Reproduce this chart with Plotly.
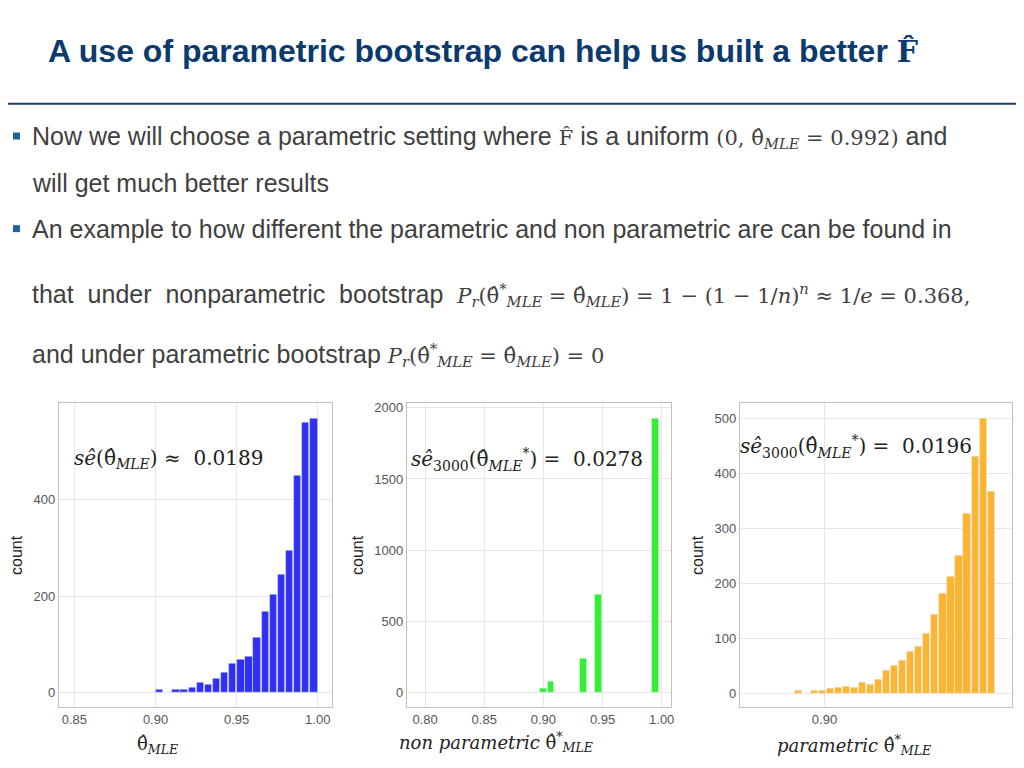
import plotly.graph_objects as go

# panel 1: theta_hat MLE (bin width 0.005)
mle_x = [0.9025, 0.9075, 0.9125, 0.9175, 0.9225, 0.9275, 0.9325, 0.9375, 0.9425, 0.9475,
         0.9525, 0.9575, 0.9625, 0.9675, 0.9725, 0.9775, 0.9825, 0.9875, 0.9925, 0.9975]
mle_y = [7, 0, 7, 7, 12, 22, 18, 30, 42, 60, 68, 75, 115, 168, 204, 246, 295, 449, 559, 567]

# panel 2: non parametric bootstrap
np_x = [0.8997, 0.9062, 0.934, 0.9466, 0.9948]
np_y = [30, 77, 240, 692, 1925]

# panel 3: parametric bootstrap (bin width ~0.00425)
p_x = [0.8860 + 0.00425 * i for i in range(25)]
p_y = [4, 0, 4, 4, 8, 10, 12, 10, 20, 15, 25, 42, 51, 60, 76, 84, 109, 144, 181, 213,
       250, 327, 432, 500, 367]

W, H = 1024, 768
OFF = 8  # page margin of the html body
serif = "DejaVu Serif"
sans = "Liberation Sans"

fig = go.Figure()
fig.add_trace(go.Bar(x=mle_x, y=mle_y, width=0.0045, marker_color="#3030f5", xaxis="x", yaxis="y"))
fig.add_trace(go.Bar(x=np_x, y=np_y, width=0.0056, marker_color="#33ee33", xaxis="x2", yaxis="y2"))
fig.add_trace(go.Bar(x=p_x, y=p_y, width=0.0038, marker_color="#fbb531", xaxis="x3", yaxis="y3"))

def px(x):
    return (x - OFF) / W

def py(y):
    return 1 - (y - OFF) / H

def xd(a, b):
    return [px(a), px(b)]

def yd(top, bot):
    return [py(bot), py(top)]

ax = dict(showgrid=True, gridcolor="#e6e6e6", zeroline=False, showline=True, mirror=True,
          linecolor="#c0c0c0", ticks="", tickfont=dict(family=sans, size=13, color="#555"))
ytitle = dict(text="count", font=dict(family=sans, size=16, color="#222"), standoff=6)

fig.update_layout(
    width=W, height=H, margin=dict(l=0, r=0, t=0, b=0),
    paper_bgcolor="white", plot_bgcolor="white", showlegend=False, bargap=0,
    xaxis=dict(ax, domain=xd(59, 333), range=[0.8404, 1.0088], anchor="y",
               tickvals=[0.85, 0.9, 0.95, 1.0], ticktext=["0.85", "0.90", "0.95", "1.00"]),
    yaxis=dict(ax, domain=yd(402, 707), range=[-30, 599], anchor="x", tickvals=[0, 200, 400],
               title=ytitle),
    xaxis2=dict(ax, domain=xd(408, 673), range=[0.7846, 1.0079], anchor="y2",
                tickvals=[0.8, 0.85, 0.9, 0.95, 1.0], ticktext=["0.80", "0.85", "0.90", "0.95", "1.00"]),
    yaxis2=dict(ax, domain=yd(402, 707), range=[-103, 2030], anchor="x2",
                tickvals=[0, 500, 1000, 1500, 2000], title=ytitle),
    xaxis3=dict(ax, domain=xd(742, 1015), range=[0.8553, 0.9991], anchor="y3",
                tickvals=[0.9], ticktext=["0.90"]),
    yaxis3=dict(ax, domain=yd(402, 707), range=[-26, 528], anchor="x3",
                tickvals=[0, 100, 200, 300, 400, 500], title=ytitle),
)

def m(t, size=21):
    return '<span style="font-family:DejaVu Serif;font-size:%dpx">%s</span>' % (size, t)

th = "θ̂<sub><i>MLE</i></sub>"
ths = "θ̂<sup>*</sup><sub><i>MLE</i></sub>"
body = dict(family=sans, size=25, color="#404040")
math = dict(family=serif, size=20, color="#222")
lab = dict(family=serif, size=18, color="#222")
notes = [
    (46, 48, "<b>A use of parametric bootstrap can help us built a better " + m("F̂", 30) + "</b>",
     dict(family=sans, size=32, color="#0b3a6e")),
    (30, 134, "Now we will choose a parametric setting where " + m("F̂") + " is a uniform "
     + m("(0, " + th + " = 0.992)") + " and", body),
    (30, 181, "will get much better results", body),
    (30, 227, "An example to how different the parametric and non parametric are can be found in", body),
    (30, 293, "that  under  nonparametric  bootstrap  "
     + m("<i>P<sub>r</sub></i>(" + ths + " = " + th + ") = 1 − (1 − 1/<i>n</i>)<sup><i>n</i></sup> ≈ 1/<i>e</i> = 0.368,"),
     body),
    (30, 353, "and under parametric bootstrap " + m("<i>P<sub>r</sub></i>(" + ths + " = " + th + ") = 0"), body),
    (72, 458, "<i>sê</i>(" + th + ") ≈  0.0189", math),
    (410, 458, "<i>sê</i><sub>3000</sub>(" + th + "<sup>*</sup>) =  0.0278", math),
    (740, 445, "<i>sê</i><sub>3000</sub>(" + th + "<sup>*</sup>) =  0.0196", math),
    (135, 745, th, lab),
    (398, 742, "<i>non parametric</i> " + ths, lab),
    (777, 745, "<i>parametric</i> " + ths, lab),
]
for x, y, t, f in notes:
    fig.add_annotation(x=px(x), y=py(y), xref="paper", yref="paper", text=t,
                       showarrow=False, xanchor="left", yanchor="middle", font=f)

fig.add_shape(type="line", xref="paper", yref="paper", x0=0, x1=1, y0=py(101), y1=py(101),
              line=dict(color="#1f3f66", width=2))
for by in (133, 226):
    fig.add_shape(type="rect", xref="paper", yref="paper", x0=px(13), x1=px(20),
                  y0=py(by + 4), y1=py(by - 3), fillcolor="#1f5f9f", line=dict(width=0))

fig.write_html("out.html")
